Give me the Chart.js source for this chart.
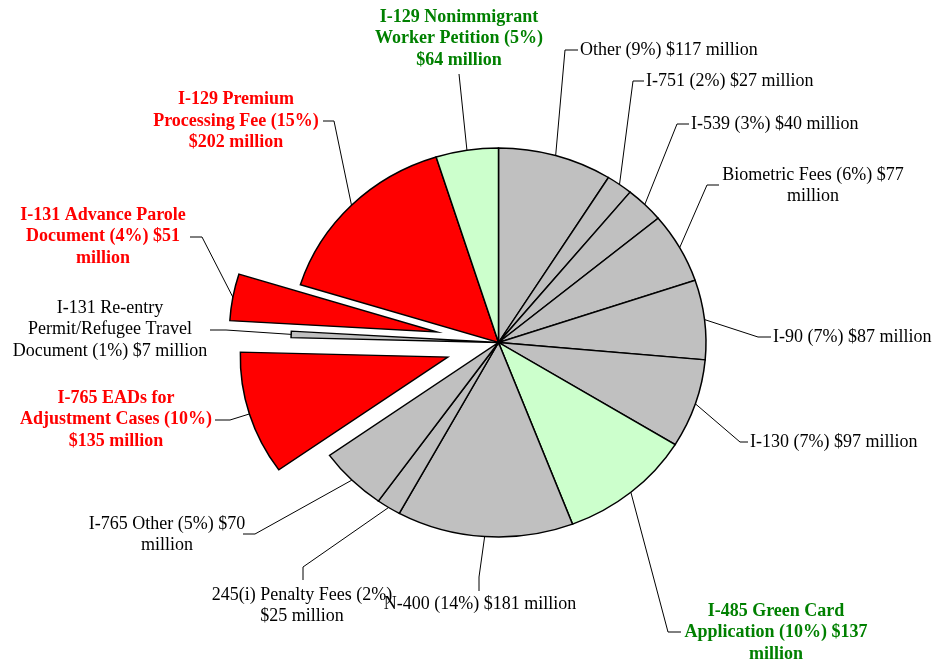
<!DOCTYPE html>
<html><head><meta charset="utf-8">
<script src="https://cdn.jsdelivr.net/npm/chart.js@4.4.1/dist/chart.umd.min.js"></script>
<style>html,body{margin:0;padding:0;background:#fff;} canvas{display:block;}</style>
</head><body>
<canvas id="c" width="935" height="662"></canvas>
<script>
// ---- data ----
const categories = ["Other","I-751","I-539","Biometric Fees","I-90","I-130","I-485 Green Card Application","N-400","245(i) Penalty Fees","I-765 Other","I-765 EADs for Adjustment Cases","I-131 Re-entry Permit/Refugee Travel Document","I-131 Advance Parole Document","I-129 Premium Processing Fee","I-129 Nonimmigrant Worker Petition"];
const values = [117,27,40,77,87,97,137,181,25,70,135,7,51,202,64];
const percents = [9,2,3,6,7,7,10,14,2,5,10,1,4,15,5];
const labelLines = [
  ["Other (9%) $117 million"],
  ["I-751 (2%) $27 million"],
  ["I-539 (3%) $40 million"],
  ["Biometric Fees (6%) $77","million"],
  ["I-90 (7%) $87 million"],
  ["I-130 (7%) $97 million"],
  ["I-485 Green Card","Application (10%) $137","million"],
  ["N-400 (14%) $181 million"],
  ["245(i) Penalty Fees (2%)","$25 million"],
  ["I-765 Other (5%) $70","million"],
  ["I-765 EADs for","Adjustment Cases (10%)","$135 million"],
  ["I-131 Re-entry","Permit/Refugee Travel","Document (1%) $7 million"],
  ["I-131 Advance Parole","Document (4%) $51","million"],
  ["I-129 Premium","Processing Fee (15%)","$202 million"],
  ["I-129 Nonimmigrant","Worker Petition (5%)","$64 million"]
];

// ---- styles ----
const kinds = ['n','n','n','n','n','n','g','n','n','n','r','n','r','r','g'];
const fillByKind = {n:'#C0C0C0', r:'#FF0000', g:'#CCFFCC'};
const textByKind = {n:'#000000', r:'#FF0000', g:'#008000'};
const explodePx = [0,0,0,0,0,0,0,0,0,0,53,0,62.5,0,0];
const SQ = 194.5/207.5;
const LH = 21.5;
const labelLayout = [
  {align:'left',   x:580, y:50,  pts:[[565,50],[578,50]]},
  {align:'left',   x:646, y:81,  pts:[[633,81],[644,81]]},
  {align:'left',   x:691, y:124, pts:[[677,124],[689,124]]},
  {align:'center', x:813, y:175, pts:[[707,185],[719,185]]},
  {align:'left',   x:773, y:337, pts:[[758,337],[771,337]]},
  {align:'left',   x:750, y:442, pts:[[740,442],[748,442]]},
  {align:'center', x:776, y:611, pts:[[668,632],[681,632]]},
  {align:'center', x:480, y:604, pts:[[479,577],[479,591]]},
  {align:'center', x:302, y:595, pts:[[303,567],[303,580]]},
  {align:'center', x:167, y:524, pts:[[255,534],[243,534]]},
  {align:'center', x:116, y:398, pts:[[230,420],[215,420]]},
  {align:'center', x:110, y:308, pts:[[226,330],[210,330]]},
  {align:'center', x:103, y:215, pts:[[202,237],[190,237]]},
  {align:'center', x:236, y:99.5,pts:[[334,121],[323,121]]},
  {align:'center', x:459, y:17,  pts:[[459,74]]}
];

const squeezePlugin = {
  id: 'squeeze',
  beforeDatasetsDraw(chart) {
    const meta = chart.getDatasetMeta(0);
    meta.data.forEach((el, i) => {
      const e = explodePx[i];
      if (e && !el._exploded) {
        el._exploded = true;
        const proto = Object.getPrototypeOf(el);
        el.draw = function(ctx, area) {
          const m = (this.startAngle + this.endAngle) / 2;
          ctx.save();
          ctx.translate(Math.cos(m) * e, Math.sin(m) * e);
          proto.draw.call(this, ctx, area);
          ctx.restore();
        };
      }
    });
    const cy = meta.data[0].y;
    const ctx = chart.ctx;
    ctx.save();
    ctx.translate(0, cy);
    ctx.scale(1, SQ);
    ctx.translate(0, -cy);
  },
  afterDatasetsDraw(chart) {
    chart.ctx.restore();
  }
};

const labelPlugin = {
  id: 'leaderLabels',
  afterDraw(chart) {
    const ctx = chart.ctx;
    const meta = chart.getDatasetMeta(0);
    const cy = meta.data[0].y;
    ctx.save();
    meta.data.forEach((arc, i) => {
      const mid = (arc.startAngle + arc.endAngle) / 2;
      const r = arc.outerRadius + explodePx[i];
      const sx = arc.x + Math.cos(mid) * r;
      const sy = cy + (arc.y + Math.sin(mid) * r - cy) * SQ;
      const L = labelLayout[i];
      ctx.beginPath();
      ctx.moveTo(sx, sy);
      L.pts.forEach(p => ctx.lineTo(p[0], p[1]));
      ctx.strokeStyle = '#000';
      ctx.lineWidth = 1;
      ctx.stroke();
      const k = kinds[i];
      ctx.font = (k === 'n' ? '' : 'bold ') + '18px "Liberation Serif", "Times New Roman", serif';
      ctx.fillStyle = textByKind[k];
      ctx.textAlign = L.align;
      ctx.textBaseline = 'middle';
      labelLines[i].forEach((t, j) => ctx.fillText(t, L.x, L.y + j * LH));
    });
    ctx.restore();
  }
};

new Chart(document.getElementById('c'), {
  type: 'pie',
  data: {
    labels: categories,
    datasets: [{
      data: values,
      backgroundColor: kinds.map(k => fillByKind[k]),
      borderColor: '#000000',
      borderWidth: 1.5,
      borderJoinStyle: 'miter',
      radius: 207.5
    }]
  },
  options: {
    responsive: false,
    animation: false,
    events: [],
    layout: { padding: { left: 62, right: 0, top: 23, bottom: 0 } },
    plugins: { legend: { display: false }, tooltip: { enabled: false }, title: { display: false } }
  },
  plugins: [squeezePlugin, labelPlugin]
});
</script>
</body></html>
